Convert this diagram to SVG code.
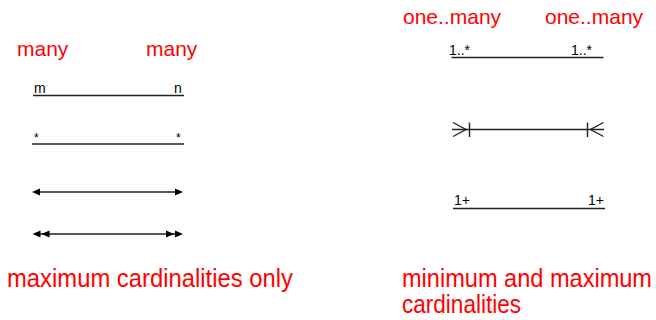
<svg xmlns="http://www.w3.org/2000/svg" width="656" height="320" viewBox="0 0 656 320">
<style>
.red{fill:#ff0000;font-family:"Liberation Sans",Arial,sans-serif;}
.hd{font-size:21px;}
.cap{font-size:26px;}
.sm{fill:#000;font-family:"Liberation Sans",Arial,sans-serif;font-size:14px;}
.ln{stroke:#222;stroke-width:1.4;fill:none;}
</style>
<defs>
<path id="ah" d="M0,0 L-8,-3.5 L-8,3.5 Z" fill="#000"/>
</defs>
<rect width="656" height="320" fill="#fff"/>
<g id="left-headers">
<text class="red hd" x="17" y="56">many</text>
<text class="red hd" x="146" y="56">many</text>
</g>
<g id="right-headers">
<text class="red hd" x="403" y="24">one..many</text>
<text class="red hd" x="545" y="24">one..many</text>
</g>
<g id="connectors">
<g id="mn">
<line class="ln" x1="33" y1="95.5" x2="184" y2="95.5"/>
<text class="sm" x="34" y="93">m</text>
<text class="sm" x="174" y="93">n</text>
</g>
<g id="stars">
<line class="ln" x1="32" y1="144" x2="184" y2="144"/>
<text class="sm" x="34" y="142" style="font-size:12px">*</text>
<text class="sm" x="176" y="142" style="font-size:12px">*</text>
</g>
<g id="arrows1">
<line class="ln" x1="36" y1="192" x2="179" y2="192"/>
<use href="#ah" transform="translate(32,192) rotate(180)"/>
<use href="#ah" transform="translate(183,192)"/>
</g>
<g id="arrows2">
<line class="ln" x1="36" y1="234" x2="179" y2="234"/>
<use href="#ah" transform="translate(32.5,234) rotate(180)"/>
<use href="#ah" transform="translate(41.5,234) rotate(180)"/>
<use href="#ah" transform="translate(183,234)"/>
<use href="#ah" transform="translate(174,234)"/>
</g>
<g id="one-many">
<line class="ln" x1="451.5" y1="57.5" x2="603.5" y2="57.5"/>
<text class="sm" x="449" y="55">1..*</text>
<text class="sm" x="571" y="55">1..*</text>
</g>
<g id="crowsfoot">
<line class="ln" x1="452" y1="129.5" x2="604" y2="129.5"/>
<path class="ln" d="M453,122.5 L466,129.5 L453,136.5 M469.5,122.5 V137"/>
<path class="ln" d="M603.5,122.5 L590.5,129.5 L603.5,136.5 M587.5,122.5 V137"/>
</g>
<g id="oneplus">
<line class="ln" x1="453" y1="208.5" x2="605" y2="208.5"/>
<text class="sm" x="454" y="205">1+</text>
<text class="sm" x="588" y="205">1+</text>
</g>
</g>
<g id="captions">
<text class="red cap" x="7" y="287" textLength="286" lengthAdjust="spacingAndGlyphs">maximum cardinalities only</text>
<text class="red cap" x="402" y="287" textLength="250" lengthAdjust="spacingAndGlyphs">minimum and maximum</text>
<text class="red cap" x="402" y="313" textLength="119" lengthAdjust="spacingAndGlyphs">cardinalities</text>
</g>
</svg>
